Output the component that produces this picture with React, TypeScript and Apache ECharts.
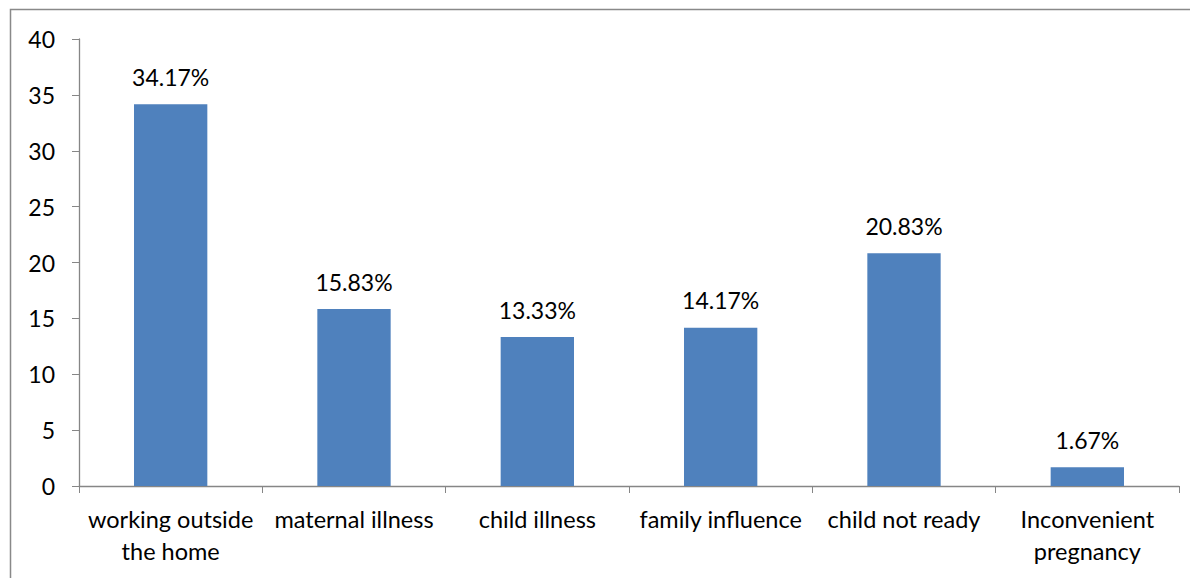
import React, { useEffect, useRef } from "react";
import * as echarts from "echarts";

const categories = [
  "working outside\nthe home",
  "maternal illness",
  "child illness",
  "family influence",
  "child not ready",
  "Inconvenient\npregnancy",
];
const values = [34.17, 15.83, 13.33, 14.17, 20.83, 1.67];
const valueLabels = ["34.17%", "15.83%", "13.33%", "14.17%", "20.83%", "1.67%"];

const FONT = "Lato, 'Open Sans', sans-serif";

export default function App() {
  const ref = useRef<HTMLDivElement>(null);
  useEffect(() => {
    if (!ref.current) return;
    const chart = echarts.init(ref.current, undefined, { renderer: "svg" });
    chart.setOption({
      animation: false,
      grid: { left: 71, top: 31, right: 19, bottom: 92, containLabel: false },
      graphic: [
        {
          type: "rect",
          shape: { x: 2.5, y: 1.5, width: 1300, height: 700 },
          style: { fill: "none", stroke: "#898989", lineWidth: 1.5 },
          silent: true,
        },
      ],
      xAxis: {
        type: "category",
        data: categories,
        axisLine: { lineStyle: { color: "#868686", width: 1.3 } },
        axisTick: { show: true, length: 7, alignWithLabel: false, lineStyle: { color: "#868686" } },
        axisLabel: {
          color: "#000",
          fontFamily: FONT,
          fontSize: 23.5,
          lineHeight: 32,
          margin: 17,
          interval: 0,
        },
      },
      yAxis: {
        type: "value",
        min: 0,
        max: 40,
        interval: 5,
        splitLine: { show: false },
        axisLine: { show: true, lineStyle: { color: "#868686", width: 1.3 } },
        axisTick: { show: true, length: 7, lineStyle: { color: "#868686" } },
        axisLabel: { color: "#000", fontFamily: FONT, fontSize: 23, margin: 24 },
      },
      series: [
        {
          type: "bar",
          data: values,
          barWidth: "40%",
          itemStyle: { color: "#4F81BD" },
          label: {
            show: true,
            position: "top",
            distance: 16,
            color: "#000",
            fontFamily: FONT,
            fontSize: 23,
            formatter: (p: any) => valueLabels[p.dataIndex],
          },
        },
      ],
    });
    return () => chart.dispose();
  }, []);
  return <div ref={ref} style={{ width: 1190, height: 570 }} />;
}
